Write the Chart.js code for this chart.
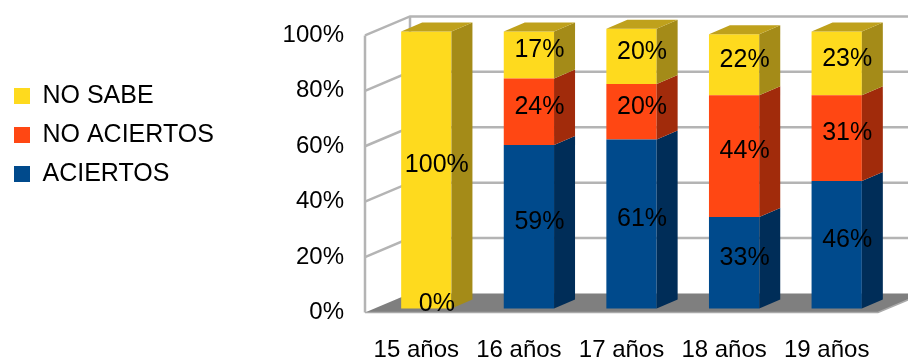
<!DOCTYPE html>
<html>
<head>
<meta charset="utf-8">
<script src="https://cdn.jsdelivr.net/npm/chart.js@4.4.1/dist/chart.umd.min.js"></script>
<style>
  html, body { margin: 0; padding: 0; background: #ffffff; }
  #wrap { width: 908px; height: 361px; }
</style>
</head>
<body>
<div id="wrap"><canvas id="chart" width="908" height="361"></canvas></div>
<script>
// Respuestas por edad (porcentajes)
const categories = ['15 años', '16 años', '17 años', '18 años', '19 años'];
const aciertos   = [0, 59, 61, 33, 46];
const noAciertos = [0, 24, 20, 44, 31];
const noSabe     = [100, 17, 20, 22, 23];
const yTickValues = [0, 20, 40, 60, 80, 100];

// Perspective of the 3D box: wall depth, bar position inside the box, bar depth
const WALL_DX = 45, WALL_DY = -19;
const BAR_OFF_X = 10, BAR_OFF_Y = -4;
const BAR_DX = 21, BAR_DY = -9;

const FONT = '"Liberation Sans", Arial, sans-serif';

const shades = {
  'ACIERTOS':    { front: '#004A8C', side: '#002D58', top: '#1B5C99' },
  'NO ACIERTOS': { front: '#FF4713', side: '#A12B0B', top: '#C73A10' },
  'NO SABE':     { front: '#FEDA1E', side: '#A48B18', top: '#BFA11C' }
};

function poly(ctx, pts, fill) {
  ctx.beginPath();
  ctx.moveTo(pts[0][0], pts[0][1]);
  for (let i = 1; i < pts.length; i++) ctx.lineTo(pts[i][0], pts[i][1]);
  ctx.closePath();
  ctx.fillStyle = fill;
  ctx.fill();
}

const box3d = {
  id: 'box3d',
  beforeDatasetsDraw(chart) {
    const { ctx, chartArea: a, scales: { y } } = chart;
    ctx.save();
    // floor
    poly(ctx, [[a.left, a.bottom], [a.right, a.bottom],
               [a.right + WALL_DX, a.bottom + WALL_DY], [a.left + WALL_DX, a.bottom + WALL_DY]], '#7F7F7F');
    ctx.strokeStyle = '#A9A9A9';
    ctx.lineWidth = 1.5;
    ctx.beginPath();
    ctx.moveTo(a.left, a.bottom); ctx.lineTo(a.right, a.bottom);
    ctx.lineTo(a.right + WALL_DX, a.bottom + WALL_DY);
    ctx.stroke();

    // gridlines on the side wall and back wall
    ctx.strokeStyle = '#B4B4B4';
    ctx.lineWidth = 2.5;
    ctx.lineJoin = 'miter';
    yTickValues.forEach(v => {
      if (v === 0) return;
      const py = y.getPixelForValue(v);
      ctx.beginPath();
      ctx.moveTo(a.left, py);
      ctx.lineTo(a.left + WALL_DX, py + WALL_DY);
      ctx.lineTo(a.right + WALL_DX, py + WALL_DY);
      ctx.stroke();
    });
    const pTop = y.getPixelForValue(100);
    ctx.beginPath();
    ctx.moveTo(a.left, a.bottom); ctx.lineTo(a.left, pTop);
    ctx.moveTo(a.left + WALL_DX, a.bottom + WALL_DY); ctx.lineTo(a.left + WALL_DX, pTop + WALL_DY);
    ctx.stroke();
    ctx.restore();

    // bars stand a little behind the front edge of the floor
    ctx.save();
    ctx.translate(BAR_OFF_X, BAR_OFF_Y);
  },
  afterDatasetsDraw(chart) {
    const { ctx } = chart;
    const stackTop = {};
    chart.data.datasets.forEach((ds, di) => {
      const meta = chart.getDatasetMeta(di);
      meta.data.forEach((el, i) => {
        const p = el.getProps(['x', 'y', 'base', 'width'], true);
        if (Math.abs(p.base - p.y) < 0.5) return;
        if (!stackTop[i] || p.y < stackTop[i].y) stackTop[i] = { y: p.y, p, c: shades[ds.label] };
      });
    });
    // side faces
    chart.data.datasets.forEach((ds, di) => {
      const c = shades[ds.label];
      chart.getDatasetMeta(di).data.forEach(el => {
        const p = el.getProps(['x', 'y', 'base', 'width'], true);
        if (Math.abs(p.base - p.y) < 0.5) return;
        const r = p.x + p.width / 2;
        poly(ctx, [[r, p.y], [r + BAR_DX, p.y + BAR_DY], [r + BAR_DX, p.base + BAR_DY], [r, p.base]], c.side);
      });
    });
    // top faces
    Object.values(stackTop).forEach(t => {
      const p = t.p, l = p.x - p.width / 2, r = p.x + p.width / 2;
      poly(ctx, [[l, p.y], [r, p.y], [r + BAR_DX, p.y + BAR_DY], [l + BAR_DX, p.y + BAR_DY]], t.c.top);
    });
    // value labels
    ctx.font = '25px ' + FONT;
    ctx.fillStyle = '#000000';
    ctx.textAlign = 'center';
    ctx.textBaseline = 'middle';
    const drawn = new Set();
    chart.data.datasets.forEach((ds, di) => {
      chart.getDatasetMeta(di).data.forEach((el, i) => {
        const v = ds.data[i];
        if (v === null || v === undefined) return;
        const p = el.getProps(['x', 'y', 'base'], true);
        const lx = p.x + BAR_DX / 2;
        const ly = (p.y + p.base) / 2 + BAR_DY / 2;
        const key = Math.round(lx) + ',' + Math.round(ly);
        if (drawn.has(key)) return;
        drawn.add(key);
        ctx.fillText(v + '%', lx, ly);
      });
    });
    ctx.restore();
  }
};

const ctx = document.getElementById('chart').getContext('2d');
new Chart(ctx, {
  type: 'bar',
  data: {
    labels: categories,
    datasets: [
      { label: 'ACIERTOS',    data: aciertos,   backgroundColor: shades['ACIERTOS'].front },
      { label: 'NO ACIERTOS', data: noAciertos, backgroundColor: shades['NO ACIERTOS'].front },
      { label: 'NO SABE',     data: noSabe,     backgroundColor: shades['NO SABE'].front }
    ]
  },
  options: {
    responsive: false,
    animation: false,
    layout: { padding: { top: 32, right: 30, bottom: 0, left: 0 } },
    datasets: { bar: { categoryPercentage: 1, barPercentage: 0.49, borderWidth: 0, clip: false } },
    plugins: {
      tooltip: { enabled: false },
      legend: {
        position: 'left',
        align: 'start',
        reverse: true,
        title: { display: true, text: '', font: { size: 10, lineHeight: 1 }, padding: { top: 27.5, bottom: 0 } },
        labels: {
          boxWidth: 16,
          boxHeight: 16,
          padding: 14,
          color: '#000000',
          font: { family: FONT, size: 25 }
        }
      }
    },
    scales: {
      x: {
        stacked: true,
        grid: { display: false, drawTicks: false },
        border: { display: false },
        ticks: { color: '#000000', padding: 23, font: { family: FONT, size: 24 }, maxRotation: 0 },
        afterFit(scale) { scale.height = 48.5; }
      },
      y: {
        stacked: true,
        min: 0,
        max: 100,
        grid: { display: false, drawTicks: false },
        border: { display: false },
        afterBuildTicks(scale) { scale.ticks = yTickValues.map(v => ({ value: v })); },
        ticks: {
          color: '#000000',
          padding: 21,
          font: { family: FONT, size: 24 },
          callback: v => v + '%'
        },
        afterFit(scale) { scale.width = 365 - scale.chart.legend.width; }
      }
    }
  },
  plugins: [box3d]
});
</script>
</body>
</html>
